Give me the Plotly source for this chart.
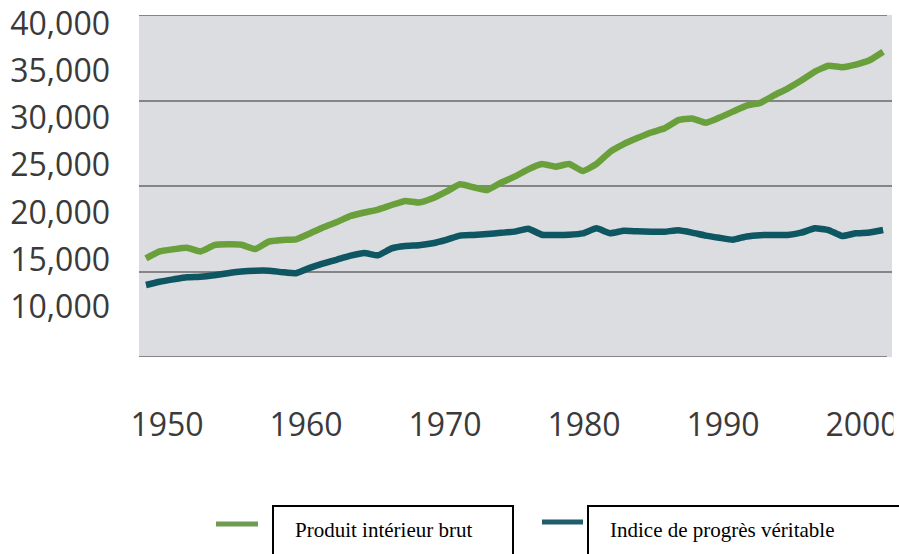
import plotly.graph_objects as go

# ---- data ----
years = list(range(1950, 2005))
pib = [11540, 12350, 12600, 12780, 12350, 13080, 13180, 13120, 12620, 13500,
       13690, 13760, 14450, 15180, 15800, 16500, 16900, 17250, 17780, 18250,
       18060, 18560, 19340, 20200, 19850, 19530, 20390, 21090, 21950, 22570,
       22260, 22570, 21750, 22570, 24000, 24900, 25600, 26250, 26750, 27700,
       27900, 27400, 28000, 28700, 29400, 29720, 30600, 31400, 32340, 33390,
       34070, 33900, 34200, 34700, 35700]
ipv = [8420, 8800, 9080, 9330, 9390, 9560, 9800, 10000, 10100, 10100,
       9920, 9800, 10420, 10950, 11400, 11850, 12150, 11900, 12700, 12980,
       13070, 13300, 13700, 14200, 14270, 14380, 14520, 14660, 15000, 14300,
       14270, 14300, 14450, 15050, 14470, 14770, 14700, 14660, 14660, 14820,
       14550, 14200, 13950, 13720, 14100, 14250, 14270, 14270, 14540, 15050,
       14850, 14150, 14470, 14560, 14850]
series_names = ["Produit intérieur brut", "Indice de progrès véritable"]
series_colors = ["#6aa03b", "#0d5662"]
legend_colors = ["#6f9b52", "#1f5d68"]

x_tick_vals = [1950, 1960, 1970, 1980, 1990, 2000]
x_tick_text = ["1950", "1960", "1970", "1980", "1990", "2000"]
y_tick_vals = [10000, 15000, 20000, 25000, 30000, 35000, 40000]
y_tick_text = ["10,000", "15,000", "20,000", "25,000", "30,000", "35,000", "40,000"]
grid_vals = [0, 10000, 20000, 30000, 40000]

# ---- geometry (page pixels; body margin is removed so figure == page) ----
W, H = 899, 554
L, R, T, B = 139, 892, 15, 357
PW, PH = R - L, B - T

def px_x(p):
    return (p - L) / PW

def px_y(p):
    return (B - p) / PH

fig = go.Figure()
for name, vals, col in zip(series_names, [pib, ipv], series_colors):
    fig.add_trace(go.Scatter(x=years, y=vals, mode="lines", name=name,
                             line=dict(color=col, width=6.5, shape="spline", smoothing=0.4),
                             showlegend=False))
# empty traces so that the label axes get drawn
fig.add_trace(go.Scatter(x=[], y=[], xaxis="x2", yaxis="y", showlegend=False, hoverinfo="skip"))
fig.add_trace(go.Scatter(x=[], y=[], xaxis="x", yaxis="y2", showlegend=False, hoverinfo="skip"))

tick_font = dict(family="Open Sans", size=32, color="#3a3a3a")

fig.update_layout(
    width=W, height=H,
    margin=dict(l=L, r=W - R, t=T, b=H - B, pad=0, autoexpand=False),
    paper_bgcolor="white",
    plot_bgcolor="#dcdde0",
    showlegend=False,
    xaxis=dict(range=[1949.49, 2004.65], showgrid=False, zeroline=False, automargin=False,
               showticklabels=False, ticks="", showline=False),
    yaxis=dict(range=[0, 40000], tickvals=grid_vals, showgrid=True, automargin=False,
               gridcolor="#858585", gridwidth=2, zeroline=False,
               showticklabels=False, ticks="", showline=False),
    xaxis2=dict(overlaying="x", anchor="y", side="bottom", automargin=False,
                range=[1947.986, 2002.156], tickvals=x_tick_vals, ticktext=x_tick_text,
                showgrid=False, zeroline=False, ticks="", tickfont=tick_font,
                ticklabelstandoff=46, ticklabeloverflow="allow"),
    yaxis2=dict(overlaying="y", anchor="x", side="left", automargin=False,
                range=[4709, 40899], tickvals=y_tick_vals, ticktext=y_tick_text,
                showgrid=False, zeroline=False, ticks="", tickfont=tick_font,
                ticklabelstandoff=28, ticklabeloverflow="allow"),
)

# edge grid lines (top and bottom of the grey panel)
for gv in [0, 40000]:
    fig.add_shape(type="line", xref="paper", yref="y", x0=0, x1=px_x(887),
                  y0=gv, y1=gv, line=dict(color="#858585", width=2), layer="above")

# the source image is cropped at its right edge, slicing the last year label
fig.add_shape(type="rect", xref="paper", yref="paper",
              x0=px_x(893.5), x1=px_x(905), y0=px_y(395), y1=px_y(455),
              line=dict(width=0), fillcolor="white", layer="above")

# ---- legend drawn manually ----
legend_items = [
    dict(sx0=216, sx1=258, sy=524, bx0=273, bx1=513, tx=293),
    dict(sx0=542, sx1=583, sy=522, bx0=588, bx1=930, tx=608),
]
for item, name, col in zip(legend_items, series_names, legend_colors):
    fig.add_shape(type="line", xref="paper", yref="paper",
                  x0=px_x(item["sx0"]), x1=px_x(item["sx1"]),
                  y0=px_y(item["sy"]), y1=px_y(item["sy"]),
                  line=dict(color=col, width=5))
    fig.add_shape(type="rect", xref="paper", yref="paper",
                  x0=px_x(item["bx0"]), x1=px_x(item["bx1"]),
                  y0=px_y(506), y1=px_y(600),
                  line=dict(color="black", width=2), fillcolor="rgba(0,0,0,0)")
    fig.add_annotation(xref="paper", yref="paper", x=px_x(item["tx"]), y=px_y(530),
                       xanchor="left", yanchor="middle", showarrow=False,
                       text=name, font=dict(family="Liberation Serif", size=21, color="black"))

fig.write_html("out.html", config={"displayModeBar": False},
               post_script="document.body.style.margin='0';document.body.style.overflow='hidden';")
